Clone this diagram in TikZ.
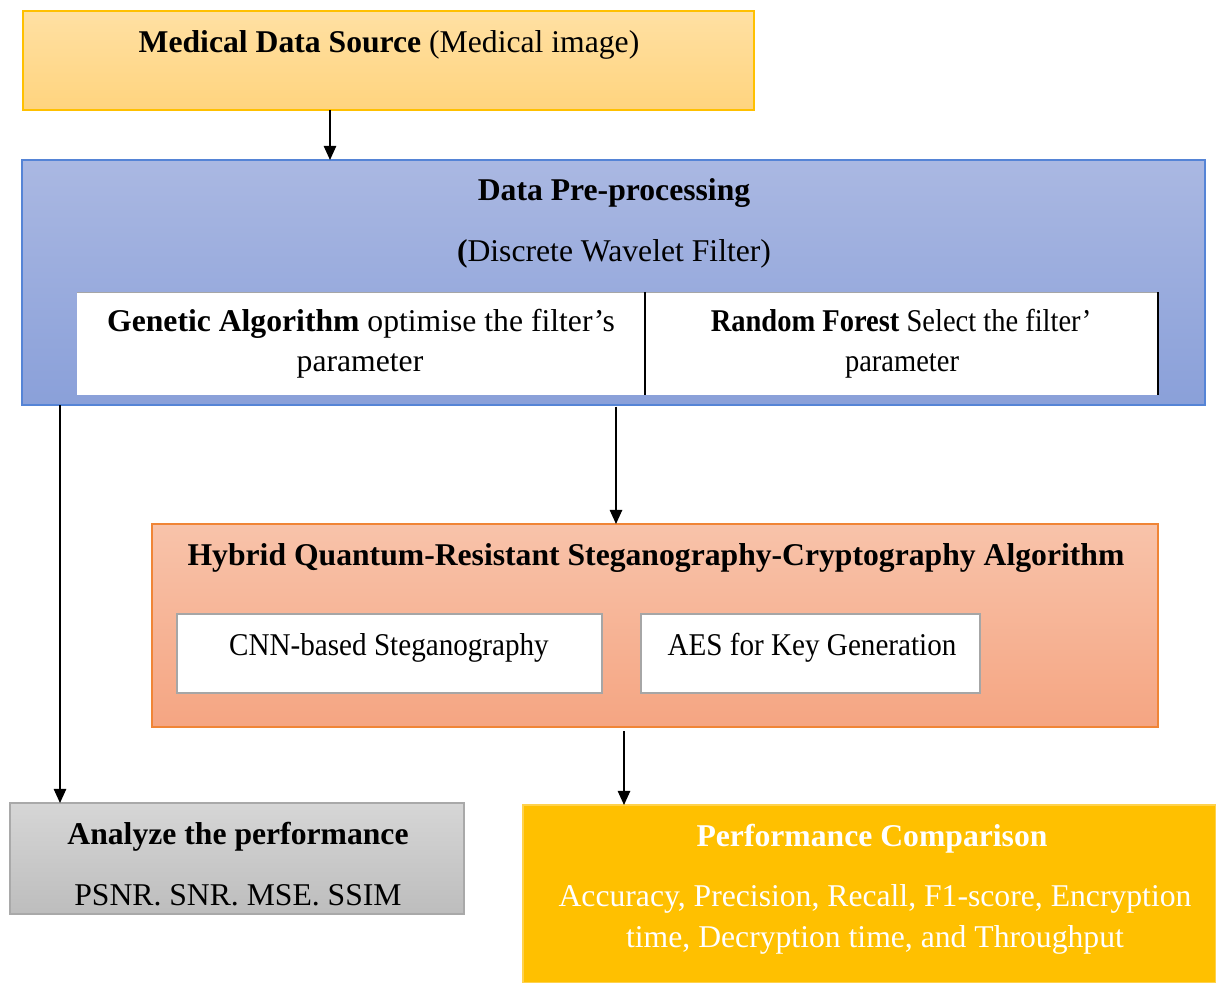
\documentclass[tikz,border=0pt]{standalone}
\usepackage{fontspec}
\setmainfont{Liberation Serif}
\usetikzlibrary{arrows.meta,fit}

\definecolor{srcTop}{HTML}{FFE0A3}
\definecolor{srcBot}{HTML}{FFD47E}
\definecolor{srcLine}{HTML}{FFC000}
\definecolor{preTop}{HTML}{AAB8E2}
\definecolor{preBot}{HTML}{8AA0D9}
\definecolor{preLine}{HTML}{5584D6}
\definecolor{hybTop}{HTML}{F8C3AA}
\definecolor{hybBot}{HTML}{F5A582}
\definecolor{hybLine}{HTML}{F08536}
\definecolor{anaTop}{HTML}{D6D6D6}
\definecolor{anaBot}{HTML}{BDBDBD}
\definecolor{anaLine}{HTML}{A9A9A9}
\definecolor{perfFill}{HTML}{FFC000}
\definecolor{perfLine}{HTML}{FFD24D}
\definecolor{subLine}{HTML}{A6A6A6}

% narrower setting of a line of text
\newcommand{\narrowtext}[2]{\scalebox{#1}[1]{#2}}

\begin{document}
\begin{tikzpicture}[x=0.6pt,y=-0.6pt,
  box/.style={inner sep=0pt, outer sep=0pt, line width=0.9pt},
  subbox/.style={box, fill=white, draw=subLine, line width=1.4pt},
  lbl/.style={anchor=base, inner sep=0pt, outer sep=0pt, font=\fontsize{19}{23}\selectfont},
  conn/.style={-{Triangle[length=8.5pt,width=7.5pt]}, line width=0.8pt}]

\useasboundingbox[fill=white] (0,0) rectangle (1216,983);

% --- boxes ---
\node[box, draw=srcLine, top color=srcTop, bottom color=srcBot,
      fit={(23,11)(754,110)}] (src) {};
\node[box, draw=preLine, top color=preTop, bottom color=preBot,
      fit={(22,160)(1205,405)}] (pre) {};
\node[box, fill=white, fit={(77,292)(645,395)}] (ga) {};
\node[box, fill=white, fit={(645,292)(1158,395)}] (rf) {};
\draw[line width=0.5pt, draw=gray!70] (ga.north west) -- (rf.north east);
\draw[line width=0.7pt] (rf.north west) -- (rf.south west);
\draw[line width=0.7pt] (rf.north east) -- (rf.south east);

\node[box, draw=hybLine, top color=hybTop, bottom color=hybBot,
      fit={(152,524)(1158,727)}] (hyb) {};
\node[subbox, fit={(177,614)(602,693)}] (cnn) {};
\node[subbox, fit={(641,614)(980,693)}] (aes) {};

\node[box, draw=anaLine, top color=anaTop, bottom color=anaBot,
      fit={(10,803)(464,914)}] (ana) {};
\node[box, draw=perfLine, fill=perfFill,
      fit={(523,805)(1215.5,983)}] (perf) {};

% --- texts ---
\node[lbl] (tSrc) at (389,53) {\textbf{Medical Data Source} (Medical image)};
\node[lbl] (tPre) at (614,201) {\textbf{Data Pre-processing}};
\node[lbl] (tDwf) at (614,261) {\textbf{(}Discrete Wavelet Filter)};
\node[lbl] (tGa1) at (361,331) {\textbf{Genetic Algorithm} optimise the filter’s};
\node[lbl] (tGa2) at (360,371) {parameter};
\node[lbl] (tRf1) at (901,331) {\narrowtext{0.9}{\textbf{Random Forest} Select the filter’}};
\node[lbl] (tRf2) at (902,371) {\narrowtext{0.9}{parameter}};
\node[lbl] (tHyb) at (656,565) {\textbf{Hybrid Quantum-Resistant Steganography-Cryptography Algorithm}};
\node[lbl] (tCnn) at (389,655) {\narrowtext{0.92}{CNN-based Steganography}};
\node[lbl] (tAes) at (812,655) {\narrowtext{0.92}{AES for Key Generation}};
\node[lbl] (tAna) at (238,844) {\textbf{Analyze the performance}};
\node[lbl] (tMet) at (238,905) {PSNR. SNR. MSE. SSIM};
\node[lbl, text=white] (tPerf) at (872,846) {\textbf{Performance Comparison}};
\node[lbl, text=white] (tAcc1) at (875,906) {Accuracy, Precision, Recall, F1-score, Encryption};
\node[lbl, text=white] (tAcc2) at (875,947) {time, Decryption time, and Throughput};

% --- connectors ---
\coordinate (xA) at (330,0);
\coordinate (xB) at (60,0);
\coordinate (xC) at (616,0);
\coordinate (xD) at (624,0);
\draw[conn] (src.south -| xA) -- (pre.north -| xA);
\draw[conn] (pre.south -| xB) -- (ana.north -| xB);
\draw[conn, shorten <=1pt] (pre.south -| xC) -- (hyb.north -| xC);
\draw[conn, shorten <=2.4pt] (hyb.south -| xD) -- (perf.north -| xD);

\end{tikzpicture}
\end{document}
